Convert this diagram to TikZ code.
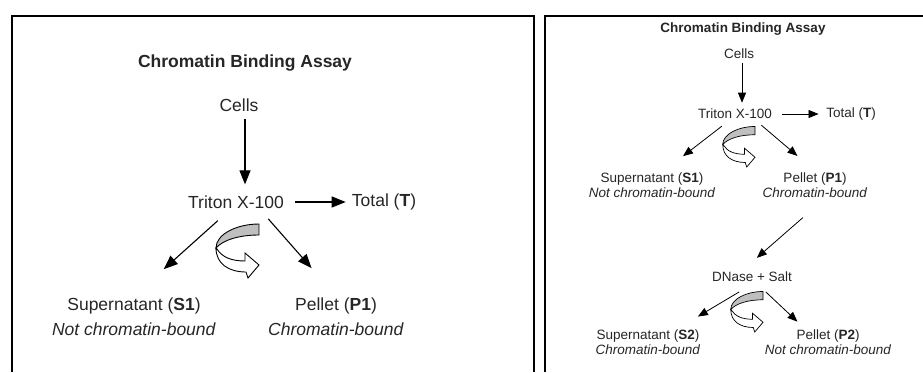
\documentclass[tikz,border=0pt]{standalone}
\usepackage{fontspec}
\setmainfont{Liberation Sans}
\usetikzlibrary{arrows.meta}
\begin{document}
\begin{tikzpicture}[x=1pt,y=-1pt,
		big/.style={font=\fontsize{17.5}{25}\selectfont,text=black!85,inner sep=2pt,align=center},
		small/.style={font=\fontsize{13.5}{15}\selectfont,text=black!85,inner sep=1.5pt,align=center},
		arrA/.style={line width=1.1pt,-{Triangle[length=14pt,width=11pt]}},
		arrB/.style={line width=0.8pt,-{Triangle[length=10pt,width=8pt]}},
		turn/.pic={
			\draw[fill=white] (-43,18) .. controls (-43,34) and (-30,42) .. (-13,42) -- (-11,48) -- (0,35) -- (-14,23) -- (-14,31) .. controls (-28,31) and (-37,27) .. (-42,19) -- cycle;
			\draw[fill=black!25] (0,-6) .. controls (-22,-6) and (-43,4) .. (-43,18) .. controls (-36,10) and (-20,5) .. (0,5) -- cycle;
		}]
	\useasboundingbox (0,0) rectangle (923,372);
	% frames
	\draw[line width=2pt] (11.7,372) -- (11.7,15.7) -- (534,15.7) -- (534,372);
	\draw[line width=2pt] (545,372) -- (545,15.7) -- (923,15.7);
	% left panel
	\node[big,font=\fontsize{17.5}{25}\selectfont\bfseries] (titleA) at (245,63) {Chromatin Binding Assay};
	\node[big] (cellsA) at (239,105) {Cells};
	\node[big] (tritonA) at (236,202) {Triton X-100};
	\node[big] (totalA) at (384,202) {Total (\textbf{T})};
	\node[big] (supA) at (134,317) {Supernatant (\textbf{S1})\\\textit{Not chromatin-bound}};
	\node[big] (pelA) at (336,317) {Pellet (\textbf{P1})\\\textit{Chromatin-bound}};
	\draw[arrA,shorten <=5pt,shorten >=9pt] ([xshift=6pt]cellsA.south) -- ([xshift=6pt]cellsA.south |- tritonA.north);
	\draw[arrA,shorten <=9pt,shorten >=4pt] (tritonA.east) -- (totalA.west);
	\draw[arrA,shorten <=15pt,shorten >=40pt] ([xshift=-7pt]tritonA.south) -- (supA.north);
	\draw[arrA,shorten <=11pt,shorten >=37pt] ([xshift=25pt]tritonA.south) -- (pelA.north);
	\pic[line width=0.9pt] at (259,230) {turn};
	% right panel
	\node[small,font=\fontsize{13.5}{15}\selectfont\bfseries] (titleB) at (743,29) {Chromatin Binding Assay};
	\node[small] (cellsB) at (739,54) {Cells};
	\node[small] (tritonB) at (735,114) {Triton X-100};
	\node[small] (totalB) at (851,114) {Total (\textbf{T})};
	\node[small] (supB1) at (652,185) {Supernatant (\textbf{S1})\\\textit{Not chromatin-bound}};
	\node[small] (pelB1) at (815,185) {Pellet (\textbf{P1})\\\textit{Chromatin-bound}};
	\node[small] (dnaseB) at (752,277) {DNase + Salt};
	\node[small] (supB2) at (648,342) {Supernatant (\textbf{S2})\\\textit{Chromatin-bound}};
	\node[small] (pelB2) at (828,342) {Pellet (\textbf{P2})\\\textit{Not chromatin-bound}};
	\draw[arrB,shorten <=2.6pt,shorten >=4.6pt] ([xshift=3pt]cellsB.south) -- ([xshift=3pt]cellsB.south |- tritonB.north);
	\draw[arrB,shorten <=8pt,shorten >=6pt] (tritonB.east) -- (totalB.west);
	\draw[arrB,shorten <=9pt,shorten >=24pt] ([xshift=-6pt]tritonB.south) -- ([xshift=12pt]supB1.north);
	\draw[arrB,shorten <=7pt,shorten >=23pt] ([xshift=21pt]tritonB.south) -- (pelB1.north);
	\draw[arrB,shorten <=28pt,shorten >=19pt] ([xshift=9pt]pelB1.south) -- ([xshift=-9.5pt]dnaseB.north);
	\draw[arrB,shorten <=16pt,shorten >=22pt] ([xshift=1pt]dnaseB.south) -- ([xshift=31pt]supB2.north);
	\draw[arrB,shorten <=12pt,shorten >=9pt] ([xshift=5pt]dnaseB.south) -- ([xshift=-24pt]pelB2.north);
	\pic[scale=0.75,line width=0.7pt] at (755,131) {turn};
	\pic[scale=0.75,line width=0.7pt] at (763,296) {turn};
\end{tikzpicture}
\end{document}
